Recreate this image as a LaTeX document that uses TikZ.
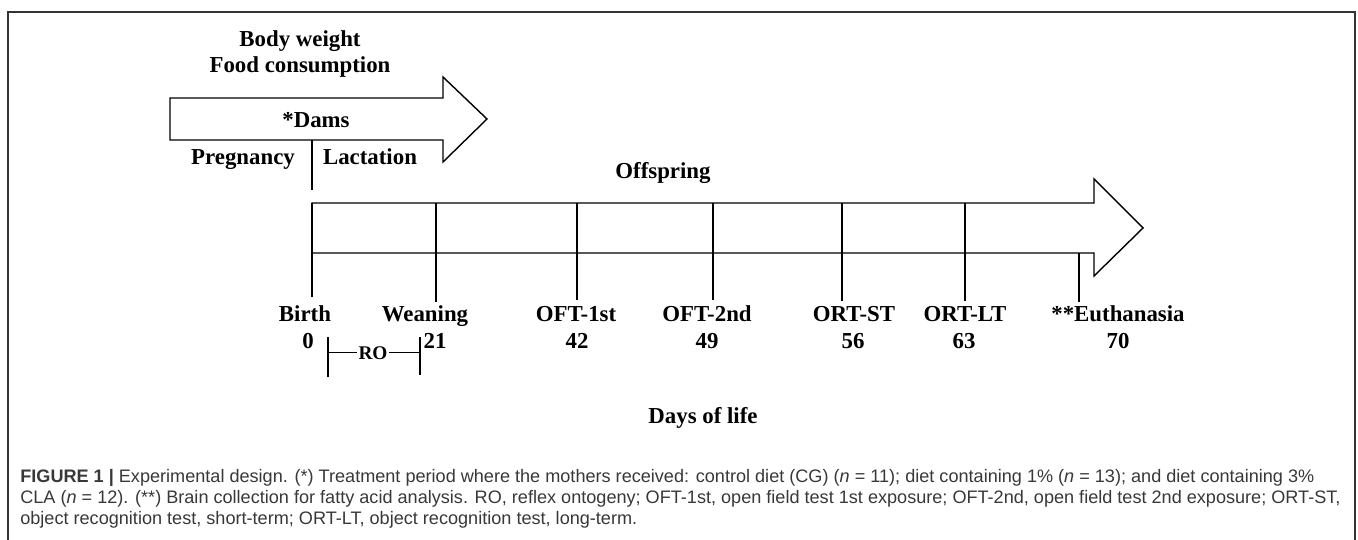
\documentclass[tikz,border=0pt]{standalone}
\usepackage{fontspec}
\setmainfont{Liberation Serif}
\newfontfamily\fuentePie{Liberation Sans}
\usepackage{tikz}
\tikzstyle{nodoTxt} = [inner sep=0pt, anchor=base, font=\fontsize{13pt}{15pt}\selectfont\bfseries]
\tikzstyle{nodoRO} = [inner sep=0.5pt, anchor=base, font=\fontsize{11pt}{13pt}\selectfont\bfseries]
\tikzstyle{nodoPie} = [inner sep=0pt, anchor=base west, text=black!78, font=\fuentePie\fontsize{10.3pt}{12pt}\selectfont]
\tikzstyle{linea} = [line width=0.8pt]
\tikzstyle{flecha} = [line width=0.8pt, line join=miter]

\begin{document}
\begin{tikzpicture}[x=0.02cm, y=-0.02cm]
    \useasboundingbox (0,0) rectangle (1358,540);
    \draw [line width=0.6pt, black!80] (8,540) -- (8,12) -- (1355,12) -- (1355,540);

    \node (BodyW) [nodoTxt] at (300,47) {Body weight};
    \node (Food) [nodoTxt] at (300,73) {Food consumption};
    \draw [flecha] (170,98) -- (443,98) -- (443,77) -- (487,119) -- (443,162) -- (443,140) -- (170,140) -- cycle;
    \node (Dams) [nodoTxt] at (316,128) {*Dams};
    \coordinate (DivTop) at (312,140);
    \coordinate (DivBot) at (312,190);
    \draw [linea] (DivTop) -- (DivBot);
    \node (Preg) [nodoTxt] at (243,165) {Pregnancy};
    \node (Lact) [nodoTxt] at (370,165) {Lactation};

    \node (Offs) [nodoTxt] at (663,179) {Offspring};
    \draw [flecha] (312,203) -- (1094,203) -- (1094,179) -- (1143,228) -- (1094,276) -- (1094,253) -- (312,253) -- cycle;

    \foreach \tx/\ty/\tb/\n/\lab/\lx/\num/\nx in {
        312/203/297/Birth/Birth/305/0/308,
        436/203/302/Wean/Weaning/425/21/435,
        577/203/300/OFTa/OFT-1st/576/42/577,
        713/203/300/OFTb/OFT-2nd/707/49/707,
        842/203/301/ORTst/ORT-ST/854/56/853,
        965/203/301/ORTlt/ORT-LT/965/63/964,
        1079/253/302/Euth/**Euthanasia/1118/70/1118}
    {
        \coordinate (t\n) at (\tx,\ty);
        \coordinate (b\n) at (\tx,\tb);
        \draw [linea] (t\n) -- (b\n);
        \node (\n) [nodoTxt] at (\lx,321) {\lab};
        \node (dia\n) [nodoTxt] at (\nx,348) {\num};
    }

    \node (RO) [nodoRO] at (373,359) {RO};
    \coordinate (ROizqA) at (328,337);
    \coordinate (ROizqB) at (328,377);
    \coordinate (ROderA) at (420,337);
    \coordinate (ROderB) at (420,375);
    \draw [linea] (ROizqA) -- (ROizqB);
    \draw [linea] (ROderA) -- (ROderB);
    \draw [linea] (ROizqA |- RO.west) -- (RO.west);
    \draw [linea] (RO.east) -- (ROderA |- RO.east);

    \node (Dias) [nodoTxt] at (703,423) {Days of life};

    \node (Pie1) [nodoPie] at (20,482) {\textbf{FIGURE 1 |} Experimental design. (*) Treatment period where the mothers received: control diet (CG) (\textit{n} = 11); diet containing 1\% (\textit{n} = 13); and diet containing 3\%};
    \node (Pie2) [nodoPie] at (20,503) {CLA (\textit{n} = 12). (**) Brain collection for fatty acid analysis. RO, reflex ontogeny; OFT-1st, open field test 1st exposure; OFT-2nd, open field test 2nd exposure; ORT-ST,};
    \node (Pie3) [nodoPie] at (20,524) {object recognition test, short-term; ORT-LT, object recognition test, long-term.};
\end{tikzpicture}
\end{document}
